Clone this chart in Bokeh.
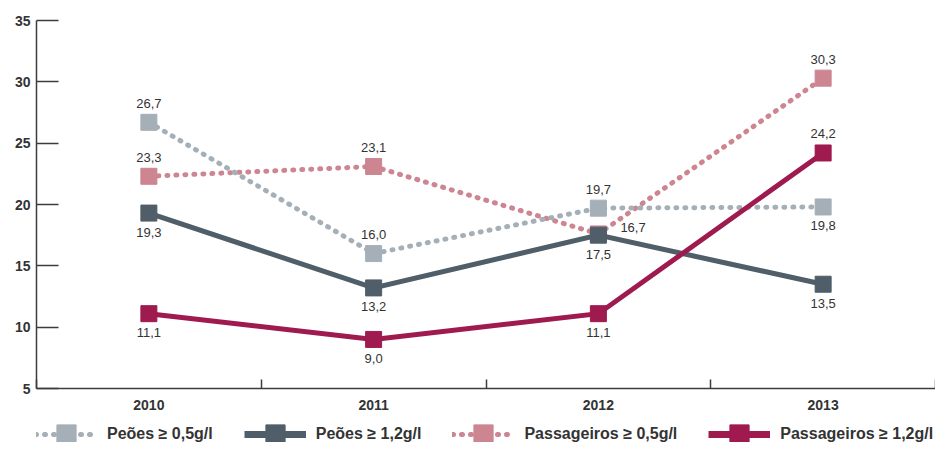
from bokeh.plotting import figure
from bokeh.layouts import column
from bokeh.models import Range1d, FixedTicker, Legend, LegendItem, ColumnDataSource
from bokeh.embed import file_html
from bokeh.resources import INLINE
from bokeh.core.properties import value

# ---- data ----
years = ["2010", "2011", "2012", "2013"]
y_ticks = [5, 10, 15, 20, 25, 30, 35]

peoes_05 = [26.7, 16.0, 19.7, 19.8]
peoes_12 = [19.3, 13.2, 17.5, 13.5]
pass_05 = [22.3, 23.1, 17.6, 30.3]
pass_12 = [11.1, 9.0, 11.1, 24.2]

peoes_05_labels = ["26,7", "16,0", "19,7", "19,8"]
peoes_12_labels = ["19,3", "13,2", "17,5", "13,5"]
pass_05_labels = ["23,3", "23,1", "16,7", "30,3"]
pass_12_labels = ["11,1", "9,0", "11,1", "24,2"]

series_names = ["Peões ≥ 0,5g/l", "Peões ≥ 1,2g/l",
                "Passageiros ≥ 0,5g/l", "Passageiros ≥ 1,2g/l"]

# ---- styles ----
FONT = "Liberation Sans"
TXT = "#333333"
AX = "#3c3c3c"
colors = {"p05": "#a5afb7", "p12": "#4f5e68", "a05": "#cc8591", "a12": "#9e1a4f"}
dotted = {"p05": True, "p12": False, "a05": True, "a12": False}

placements = {
    "p05": ["above", "above", "above", "below"],
    "p12": ["below", "below", "below", "below"],
    "a05": ["above", "above", "right", "above"],
    "a12": ["below", "below", "below", "above"],
}
offsets = {"above": (0, -19, "center"), "below": (0, 19, "center"), "right": (22, -6, "left")}

xs = list(range(len(years)))
data_by_key = {"p05": peoes_05, "p12": peoes_12, "a05": pass_05, "a12": pass_12}


def line_style(key, solid_width=5):
    if dotted[key]:
        return dict(line_color=colors[key], line_width=5, line_dash="1 8", line_cap="round")
    return dict(line_color=colors[key], line_width=solid_width, line_join="miter")


p = figure(width=935, height=416, output_backend="svg", toolbar_location=None,
           x_range=Range1d(-0.5, len(years) - 0.5), y_range=Range1d(5, 35),
           min_border_left=36, min_border_right=0, min_border_top=20, min_border_bottom=28)
p.xgrid.visible = False
p.ygrid.visible = False
p.outline_line_color = None

xa = p.xaxis[0]
xa.ticker = FixedTicker(ticks=xs, minor_ticks=[i - 0.5 for i in range(len(years) + 1)])
xa.major_label_overrides = {i: y for i, y in enumerate(years)}
xa.major_tick_in = 0
xa.major_tick_out = 0
xa.minor_tick_in = 9
xa.minor_tick_out = 0
xa.minor_tick_line_color = AX
xa.minor_tick_line_width = 1.5
xa.axis_line_color = AX
xa.axis_line_width = 1.5
xa.major_label_standoff = 11
xa.major_label_text_font = FONT
xa.major_label_text_font_size = "14px"
xa.major_label_text_font_style = "bold"
xa.major_label_text_color = TXT

ya = p.yaxis[0]
ya.ticker = FixedTicker(ticks=y_ticks)
ya.major_tick_in = 22
ya.major_tick_out = 0
ya.minor_tick_in = 0
ya.minor_tick_out = 0
ya.major_tick_line_color = AX
ya.major_tick_line_width = 1.5
ya.axis_line_color = AX
ya.axis_line_width = 1.5
ya.major_label_standoff = 6
ya.major_label_text_font = FONT
ya.major_label_text_font_size = "14px"
ya.major_label_text_font_style = "bold"
ya.major_label_text_color = TXT

series = [
    ("a05", pass_05, pass_05_labels),
    ("p05", peoes_05, peoes_05_labels),
    ("p12", peoes_12, peoes_12_labels),
    ("a12", pass_12, pass_12_labels),
]

label_rows = {"x": [], "y": [], "t": [], "dx": [], "dy": [], "al": []}
for key, vals, labs in series:
    c = colors[key]
    p.line(xs, vals, **line_style(key))
    p.scatter(xs, vals, marker="square", size=16, fill_color=c, line_color=c)
    for i, (v, t) in enumerate(zip(vals, labs)):
        dx, dy, al = offsets[placements[key][i]]
        label_rows["x"].append(xs[i]); label_rows["y"].append(v); label_rows["t"].append(t)
        label_rows["dx"].append(dx); label_rows["dy"].append(dy); label_rows["al"].append(al)

src = ColumnDataSource(label_rows)
p.text(x="x", y="y", text="t", x_offset="dx", y_offset="dy", text_align="al",
       text_baseline="middle", source=src, text_font=value(FONT),
       text_font_size="13px", text_color=TXT)

# ---- legend strip (same series, drawn out of view so only the legend shows) ----
lg = figure(width=935, height=26, output_backend="svg", toolbar_location=None,
            x_range=Range1d(-0.5, len(years) - 0.5), y_range=Range1d(100, 101),
            x_axis_type=None, y_axis_type=None,
            min_border_left=0, min_border_right=0, min_border_top=0, min_border_bottom=0)
lg.xgrid.visible = False
lg.ygrid.visible = False
lg.outline_line_color = None

items = []
for key, name in zip(["p05", "p12", "a05", "a12"], series_names):
    c = colors[key]
    lr = lg.line(xs, data_by_key[key], **line_style(key, solid_width=7))
    sr = lg.scatter(xs, data_by_key[key], marker="square", size=16, fill_color=c, line_color=c)
    items.append(LegendItem(label=name, renderers=[lr, sr]))

leg = Legend(items=items, location=(-1, -16), orientation="horizontal",
             glyph_width=62, glyph_height=48, label_standoff=10,
             padding=0, margin=0, spacing=31, border_line_color=None,
             background_fill_alpha=0, label_text_font=FONT,
             label_text_font_size="16px", label_text_font_style="bold",
             label_text_color=TXT)
lg.add_layout(leg)

layout = column(p, lg, spacing=0)
open("out.html", "w").write(file_html(layout, INLINE))
